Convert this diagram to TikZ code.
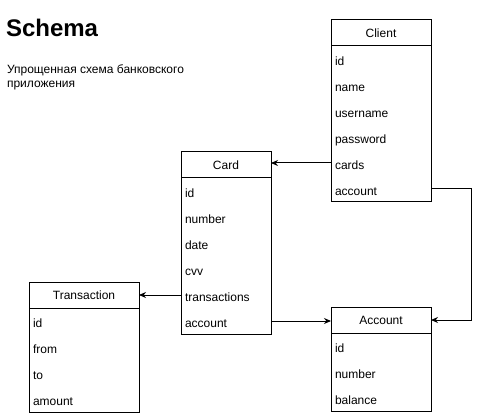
\documentclass[tikz,border=0pt]{standalone}
\usepackage{fontspec}
\setmainfont{Liberation Sans}
\usetikzlibrary{chains,fit,positioning,arrows.meta}

\begin{document}
\begin{tikzpicture}[x=1pt,y=-1pt,line width=1pt,font=\fontsize{12}{14}\selectfont,
    every node/.style={outer sep=0pt}]
\tikzstyle{tblhead}=[draw,minimum height=26pt,inner sep=0pt]
\tikzstyle{tblrow}=[minimum height=26pt,inner xsep=4pt,inner ysep=0pt,align=left,
  text height=13pt,text depth=0pt]
\tikzstyle{tblbox}=[draw,inner sep=0pt]
\tikzstyle{link}=[-{Stealth[length=7pt,width=6pt]}]

\useasboundingbox (0,0) rectangle (479,414);

%% Title and description
\node[font=\fontsize{24}{28}\selectfont\bfseries,anchor=base west,inner sep=0pt]
  (title) at (6,37) {Schema};
\node[anchor=north west,inner sep=0pt,align=left] (subtitle) at (7,65)
  {Упрощенная схема банковского\\приложения};

%% Client table
\begin{scope}[start chain=client going below,node distance=0pt,
    tblhead/.append style={minimum width=100pt},
    tblrow/.append style={text width=92pt}]
    \node [on chain,tblhead,anchor=north west] at (331,20) {Client};
    \foreach \f in {id,name,username,password,cards,account}
        \node [on chain,tblrow] {\f};
    \node [tblbox,fit=(client-1) (client-7)] (clientbox) {};
\end{scope}

%% Card table
\begin{scope}[start chain=card going below,node distance=0pt,
    tblhead/.append style={minimum width=90pt},
    tblrow/.append style={text width=82pt}]
    \node [on chain,tblhead,anchor=north west] at (181,152) {Card};
    \foreach \f in {id,number,date,cvv,transactions,account}
        \node [on chain,tblrow] {\f};
    \node [tblbox,fit=(card-1) (card-7)] (cardbox) {};
\end{scope}

%% Transaction table
\begin{scope}[start chain=transaction going below,node distance=0pt,
    tblhead/.append style={minimum width=110pt},
    tblrow/.append style={text width=102pt}]
    \node [on chain,tblhead,anchor=north west] at (29,282) {Transaction};
    \foreach \f in {id,from,to,amount}
        \node [on chain,tblrow] {\f};
    \node [tblbox,fit=(transaction-1) (transaction-5)] (transactionbox) {};
\end{scope}

%% Account table
\begin{scope}[start chain=account going below,node distance=0pt,
    tblhead/.append style={minimum width=100pt},
    tblrow/.append style={text width=92pt}]
    \node [on chain,tblhead,anchor=north west] at (331,307) {Account};
    \foreach \f in {id,number,balance}
        \node [on chain,tblrow] {\f};
    \node [tblbox,fit=(account-1) (account-4)] (accountbox) {};
\end{scope}

%% Links between tables
\draw[link] (client-6.west) -- (card-1.east |- client-6.west);
\draw[link] (client-7.east) -- ++(40,0) |- (account-1.east);
\draw[link] (card-6.west) -- (transaction-1.east);
\draw[link] (card-7.east) -- (account-1.west |- card-7.east);

\end{tikzpicture}
\end{document}
